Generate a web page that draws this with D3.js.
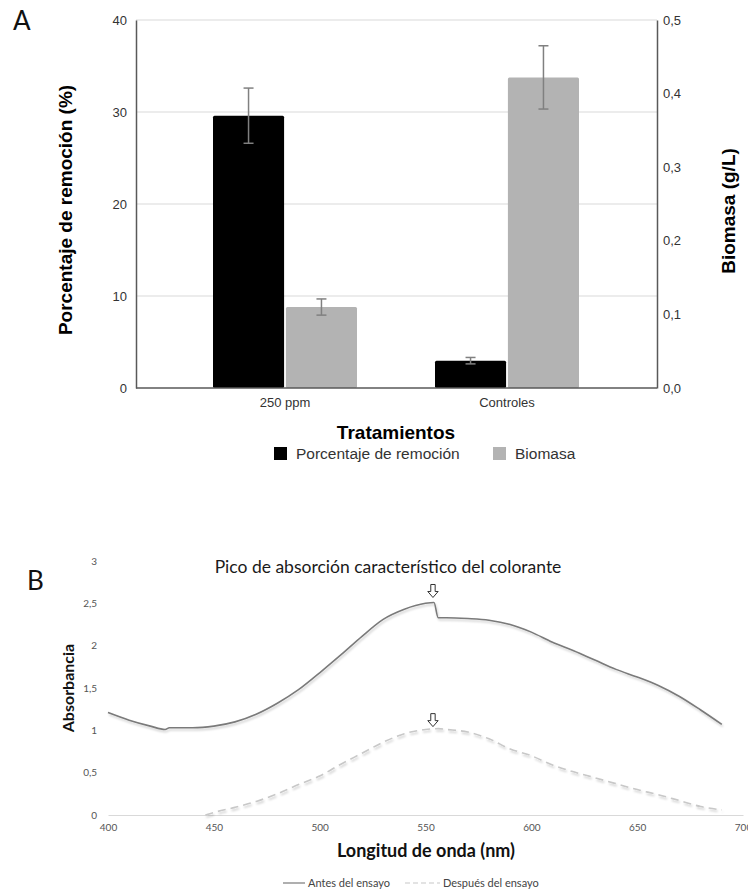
<!DOCTYPE html>
<html>
<head>
<meta charset="utf-8">
<script src="https://cdn.jsdelivr.net/npm/d3@7"></script>
<style>
  body { margin: 0; background: #fff; }
  svg { display: block; }
</style>
</head>
<body>
<div id="chart"></div>
<script>
// ---- panel A data ----
var categorias = ['250 ppm', 'Controles'];
var series = ['Porcentaje de remoción', 'Biomasa'];
var remocion = [29.6, 2.97];
var remocionErr = [3.0, 0.35];
var biomasa = [0.110, 0.422];
var biomasaErr = [0.011, 0.043];
var ticksIzq = [0, 10, 20, 30, 40];
var ticksDer = [0, 0.1, 0.2, 0.3, 0.4, 0.5];

// ---- panel B data ----
var antesNm = [400, 410, 420, 427, 429, 440, 450, 460, 470, 480, 490, 500, 510, 520, 530, 540, 550, 554, 556, 560, 570, 580, 590, 600, 610, 620, 630, 640, 650, 660, 670, 680, 690];
var antesAbs = [1.21, 1.12, 1.05, 1.01, 1.03, 1.03, 1.05, 1.10, 1.19, 1.32, 1.48, 1.68, 1.89, 2.11, 2.31, 2.43, 2.50, 2.51, 2.33, 2.33, 2.32, 2.30, 2.25, 2.16, 2.04, 1.94, 1.83, 1.72, 1.63, 1.53, 1.40, 1.24, 1.07];
var despuesNm = [446, 450, 460, 470, 480, 490, 500, 510, 520, 530, 540, 550, 556, 560, 570, 580, 590, 600, 610, 620, 630, 640, 650, 660, 670, 680, 690];
var despuesAbs = [0.0, 0.03, 0.09, 0.16, 0.25, 0.36, 0.46, 0.60, 0.73, 0.86, 0.96, 1.01, 1.02, 1.01, 0.98, 0.90, 0.78, 0.70, 0.59, 0.51, 0.44, 0.37, 0.30, 0.24, 0.17, 0.10, 0.06];
var picoNm = 554;
var ticksB_x = [400, 450, 500, 550, 600, 650, 700];
var ticksB_y = [0, 0.5, 1, 1.5, 2, 2.5, 3];

var W = 748, H = 892;
var svg = d3.select('#chart').append('svg').attr('width', W).attr('height', H);

var defs = svg.append('defs');
var f = defs.append('filter').attr('id', 'sombra').attr('x', '-5%').attr('y', '-20%').attr('width', '110%').attr('height', '140%');
f.append('feDropShadow').attr('dx', 1).attr('dy', 2).attr('stdDeviation', 1.3).attr('flood-color', '#000').attr('flood-opacity', 0.2);

var fontA = '"Liberation Sans", Arial, sans-serif';
var fontB = 'Lato, "Open Sans", sans-serif';

// ================= PANEL A =================
var gA = svg.append('g');
var yIzq = d3.scaleLinear().domain([0, 40]).range([388, 20]);
var yDer = d3.scaleLinear().domain([0, 0.5]).range([388, 20]);
var xA = d3.scaleBand().domain(categorias).range([174, 618]);
var sub = d3.scaleBand().domain(series)
  .range([xA.bandwidth() / 2 - 72, xA.bandwidth() / 2 + 72]).paddingInner(0.025);

gA.append('text').attr('x', 13).attr('y', 30).text('A')
  .attr('font-family', fontB).attr('font-size', 26).attr('fill', '#111');

// gridlines
gA.selectAll('.grid').data(ticksIzq.slice(1)).enter().append('line')
  .attr('x1', 136).attr('x2', 657)
  .attr('y1', function (d) { return yIzq(d); }).attr('y2', function (d) { return yIzq(d); })
  .attr('stroke', '#d9d9d9').attr('stroke-width', 1);

// left axis
var ejeIzq = d3.axisLeft(yIzq).tickValues(ticksIzq).tickSize(0).tickPadding(9);
var gi = gA.append('g').attr('transform', 'translate(136,0)').call(ejeIzq);
gi.select('.domain').attr('stroke', '#595959').attr('stroke-width', 1.5);
gi.selectAll('text').attr('font-family', fontA).attr('font-size', 13).attr('fill', '#333');

// right axis
var ejeDer = d3.axisRight(yDer).tickValues(ticksDer).tickSize(0).tickPadding(6)
  .tickFormat(function (d) { return d3.format('.1f')(d).replace('.', ','); });
var gd = gA.append('g').attr('transform', 'translate(657,0)').call(ejeDer);
gd.select('.domain').attr('stroke', '#595959').attr('stroke-width', 1.5);
gd.selectAll('text').attr('font-family', fontA).attr('font-size', 13).attr('fill', '#333');

// bars
var filas = categorias.map(function (c, i) {
  return [
    { cat: c, s: series[0], y: yIzq(remocion[i]), hi: yIzq(remocion[i] + remocionErr[i]), lo: yIzq(remocion[i] - remocionErr[i]), color: '#000' },
    { cat: c, s: series[1], y: yDer(biomasa[i]), hi: yDer(biomasa[i] + biomasaErr[i]), lo: yDer(biomasa[i] - biomasaErr[i]), color: '#b3b3b3' }
  ];
});
var todos = [].concat.apply([], filas);

gA.selectAll('.bar').data(todos).enter().append('rect')
  .attr('x', function (d) { return xA(d.cat) + sub(d.s); })
  .attr('width', sub.bandwidth())
  .attr('y', function (d) { return d.y; })
  .attr('height', function (d) { return 388 - d.y; })
  .attr('rx', 1.5)
  .attr('fill', function (d) { return d.color; });

// error bars
var eb = gA.selectAll('.err').data(todos).enter().append('g')
  .attr('transform', function (d) { return 'translate(' + (xA(d.cat) + sub(d.s) + sub.bandwidth() / 2) + ',0)'; })
  .attr('stroke', '#808080').attr('stroke-width', 1.5);
eb.append('line').attr('y1', function (d) { return d.hi; }).attr('y2', function (d) { return d.lo; });
eb.append('line').attr('x1', -5).attr('x2', 5).attr('y1', function (d) { return d.hi; }).attr('y2', function (d) { return d.hi; });
eb.append('line').attr('x1', -5).attr('x2', 5).attr('y1', function (d) { return d.lo; }).attr('y2', function (d) { return d.lo; });

// bottom axis
var ejeX = d3.axisBottom(xA).tickSize(0).tickPadding(10);
var gx = gA.append('g').attr('transform', 'translate(0,388)').call(ejeX);
gx.select('.domain').remove();
gA.append('line').attr('x1', 136).attr('x2', 657).attr('y1', 388).attr('y2', 388)
  .attr('stroke', '#595959').attr('stroke-width', 1.5);
gx.selectAll('text').attr('font-family', fontA).attr('font-size', 13).attr('fill', '#333');

// titles
gA.append('text').attr('transform', 'translate(72,210) rotate(-90)')
  .attr('text-anchor', 'middle').text('Porcentaje de remoción (%)')
  .attr('font-family', fontA).attr('font-weight', 'bold').attr('font-size', 19).attr('fill', '#000');
gA.append('text').attr('transform', 'translate(735,211) rotate(-90)')
  .attr('text-anchor', 'middle').text('Biomasa (g/L)')
  .attr('font-family', fontA).attr('font-weight', 'bold').attr('font-size', 19).attr('fill', '#000');
gA.append('text').attr('x', 396).attr('y', 439).attr('text-anchor', 'middle').text('Tratamientos')
  .attr('font-family', fontA).attr('font-weight', 'bold').attr('font-size', 19).attr('fill', '#000');

// legend
var leyA = gA.append('g');
var legItems = [{ t: series[0], c: '#000', x: 274 }, { t: series[1], c: '#b3b3b3', x: 493 }];
var li = leyA.selectAll('g').data(legItems).enter().append('g')
  .attr('transform', function (d) { return 'translate(' + d.x + ',447)'; });
li.append('rect').attr('width', 13).attr('height', 13).attr('fill', function (d) { return d.c; });
li.append('text').attr('x', 22).attr('y', 11.5).text(function (d) { return d.t; })
  .attr('font-family', fontA).attr('font-size', 15.5).attr('fill', '#333');

// ================= PANEL B =================
var gB = svg.append('g');
var xB = d3.scaleLinear().domain([400, 700]).range([108, 743]);
var yB = d3.scaleLinear().domain([0, 3]).range([815, 561]);

gB.append('text').attr('x', 27).attr('y', 590).text('B')
  .attr('font-family', fontB).attr('font-size', 26).attr('fill', '#111');

gB.append('text').attr('x', 388).attr('y', 573).attr('text-anchor', 'middle')
  .text('Pico de absorción característico del colorante')
  .attr('font-family', fontB).attr('font-size', 17.5).attr('fill', '#1a1a1a');

var ejeBx = d3.axisBottom(xB).tickValues(ticksB_x).tickSize(0).tickPadding(9);
var gbx = gB.append('g').attr('transform', 'translate(0,815)').call(ejeBx);
gbx.select('.domain').attr('stroke', '#d9d9d9').attr('stroke-width', 1);
gbx.selectAll('text').attr('font-family', fontB).attr('font-size', 10).attr('fill', '#555');

var ejeBy = d3.axisLeft(yB).tickValues(ticksB_y).tickSize(0).tickPadding(11)
  .tickFormat(function (d) { return String(d).replace('.', ','); });
var gby = gB.append('g').attr('transform', 'translate(108,0)').call(ejeBy);
gby.select('.domain').remove();
gby.selectAll('text').attr('font-family', fontB).attr('font-size', 10).attr('fill', '#555');

var linea = d3.line()
  .x(function (d) { return xB(d[0]); })
  .y(function (d) { return yB(d[1]); })
  .curve(d3.curveMonotoneX);

var antes = antesNm.map(function (n, i) { return [n, antesAbs[i]]; });
var despues = despuesNm.map(function (n, i) { return [n, despuesAbs[i]]; });

gB.append('path').datum(antes).attr('d', linea)
  .attr('fill', 'none').attr('stroke', '#7a7a7a').attr('stroke-width', 1.6)
  .attr('filter', 'url(#sombra)');
gB.append('path').datum(despues).attr('d', linea)
  .attr('fill', 'none').attr('stroke', '#c8c8c8').attr('stroke-width', 1.6)
  .attr('stroke-dasharray', '8,5').attr('filter', 'url(#sombra)');

// peak arrows
function flecha(x, tipY) {
  var p = 'M' + (x - 2.2) + ',' + (tipY - 13) + ' h4.4 v7 h3 l-5.2,6 l-5.2,-6 h3 z';
  gB.append('path').attr('d', p).attr('fill', '#fff').attr('stroke', '#333').attr('stroke-width', 1);
}
var iA = antesNm.indexOf(picoNm);
flecha(xB(picoNm) - 1, yB(antesAbs[iA]) - 5);
flecha(xB(picoNm) - 1, yB(1.02) - 2);

// axis titles
gB.append('text').attr('x', 426).attr('y', 857).attr('text-anchor', 'middle')
  .text('Longitud de onda (nm)')
  .attr('font-family', fontB).attr('font-weight', 'bold').attr('font-size', 18).attr('fill', '#111');
gB.append('text').attr('transform', 'translate(74,688) rotate(-90)').attr('text-anchor', 'middle')
  .text('Absorbancia')
  .attr('font-family', fontB).attr('font-weight', 'bold').attr('font-size', 16).attr('fill', '#111');

// legend B
var leyB = gB.append('g');
leyB.append('line').attr('x1', 283).attr('x2', 305).attr('y1', 883).attr('y2', 883)
  .attr('stroke', '#7a7a7a').attr('stroke-width', 1.2);
leyB.append('text').attr('x', 308).attr('y', 886.5).text('Antes del ensayo')
  .attr('font-family', fontB).attr('font-size', 11).attr('fill', '#444');
leyB.append('line').attr('x1', 405).attr('x2', 440).attr('y1', 883).attr('y2', 883)
  .attr('stroke', '#c8c8c8').attr('stroke-width', 1.2).attr('stroke-dasharray', '5,3');
leyB.append('text').attr('x', 443).attr('y', 886.5).text('Después del ensayo')
  .attr('font-family', fontB).attr('font-size', 11).attr('fill', '#444');
</script>
</body>
</html>
